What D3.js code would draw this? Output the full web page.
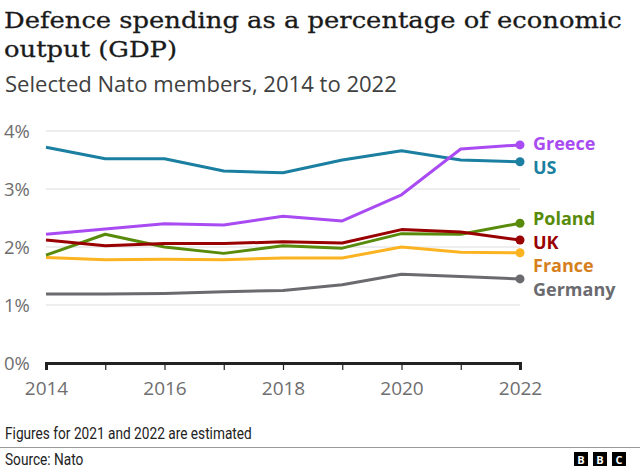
<!DOCTYPE html>
<html><head><meta charset="utf-8">
<script src="https://cdn.jsdelivr.net/npm/d3@7"></script>
<style>body{margin:0;background:#fff}svg{display:block}</style>
</head><body>
<script>
const years = [2014, 2015, 2016, 2017, 2018, 2019, 2020, 2021, 2022];
const countries = ["Greece", "US", "Poland", "UK", "France", "Germany"];
const greece  = [2.22, 2.31, 2.40, 2.38, 2.53, 2.45, 2.90, 3.69, 3.76];
const us      = [3.72, 3.52, 3.52, 3.31, 3.28, 3.50, 3.66, 3.50, 3.47];
const poland  = [1.86, 2.22, 2.00, 1.89, 2.02, 1.98, 2.23, 2.22, 2.41];
const uk      = [2.12, 2.02, 2.06, 2.06, 2.09, 2.07, 2.30, 2.26, 2.12];
const france  = [1.82, 1.78, 1.79, 1.78, 1.81, 1.81, 2.00, 1.91, 1.90];
const germany = [1.19, 1.19, 1.20, 1.23, 1.25, 1.35, 1.53, 1.49, 1.45];
const yTicks = [0, 1, 2, 3, 4];
const xTicks = [2014, 2016, 2018, 2020, 2022];

const seriesValues = [greece, us, poland, uk, france, germany];
const lineColors  = ["#a94bf2", "#1a7fa0", "#588b0b", "#990000", "#fbb321", "#6b6b6f"];
const labelColors = ["#a94bf2", "#1a7fa0", "#588b0b", "#990000", "#d5801d", "#6b6b6f"];
const labelY      = [143, 167, 218, 242, 265, 289];

const W = 640, H = 470;
const svg = d3.select("body").append("svg").attr("width", W).attr("height", H);

const x = d3.scaleLinear().domain([2014, 2022]).range([46, 520]);
const y = d3.scaleLinear().domain([0, 4]).range([363, 131]);

function fit(sel, target) {
  const len = sel.node().getComputedTextLength();
  const fs = parseFloat(sel.attr("font-size"));
  sel.attr("font-size", fs * target / len);
}

// Title (horizontally compressed serif to mimic BBC Reith Serif)
const titleFont = "'DejaVu Serif', serif";
const tg = svg.append("g");
const t1 = tg.append("text").attr("x", 0).attr("y", 28).attr("font-family", titleFont)
  .attr("font-size", 23).attr("fill", "#1a1a1a").attr("stroke", "#1a1a1a").attr("stroke-width", 0.3)
  .text("Defence spending as a percentage of economic");
tg.append("text").attr("x", 0).attr("y", 57).attr("font-family", titleFont)
  .attr("font-size", 23).attr("fill", "#1a1a1a").attr("stroke", "#1a1a1a").attr("stroke-width", 0.3)
  .text("output (GDP)");
const sx = 618 / t1.node().getComputedTextLength();
tg.attr("transform", `translate(4,0) scale(${sx},1)`);

const st = svg.append("text").attr("x", 5).attr("y", 92).attr("font-family", "Open Sans")
  .attr("font-size", 18).attr("fill", "#404040").text("Selected Nato members, 2014 to 2022");
fit(st, 392);

// Grid
const g = svg.append("g");
g.selectAll("line.grid").data(yTicks.filter(d => d > 0)).join("line")
  .attr("x1", 46).attr("x2", 520).attr("y1", d => y(d)).attr("y2", d => y(d))
  .attr("stroke", "#dcdcdc").attr("stroke-width", 1);

g.selectAll("text.ylab").data(yTicks).join("text")
  .attr("x", 4).attr("y", d => y(d) + 7).attr("font-family", "Open Sans").attr("font-size", 18.5)
  .attr("fill", "#6e6e6e").text(d => d + "%");

// X axis
const xAxis = d3.axisBottom(x).tickValues(years).tickSize(7).tickFormat(d => xTicks.includes(d) ? d : "");
const ax = svg.append("g").attr("transform", `translate(0,${y(0)})`).call(xAxis);
ax.select(".domain").attr("stroke", "#222").attr("stroke-width", 3);
ax.selectAll(".tick line").attr("stroke", "#222").attr("stroke-width", 1.2);
ax.selectAll(".tick text").attr("font-family", "Open Sans").attr("font-size", 19)
  .attr("fill", "#6e6e6e").attr("dy", "0").attr("y", 32);

// Lines
const line = d3.line().x((d, i) => x(years[i])).y(d => y(d));
const order = [4, 5, 2, 3, 1, 0];
order.forEach(k => {
  svg.append("path").datum(seriesValues[k]).attr("d", line).attr("fill", "none")
    .attr("stroke", lineColors[k]).attr("stroke-width", 3).attr("stroke-linejoin", "round");
});
countries.forEach((c, k) => {
  const v = seriesValues[k];
  svg.append("circle").attr("cx", x(years[years.length - 1])).attr("cy", y(v[v.length - 1]))
    .attr("r", 4.5).attr("fill", lineColors[k]);
  svg.append("text").attr("x", 533).attr("y", labelY[k] + 6.5).attr("font-family", "Open Sans")
    .attr("font-weight", "bold").attr("font-size", 18).attr("fill", labelColors[k]).text(c);
});

// Footer (compressed sans to mimic BBC Reith Sans)
const fg = svg.append("g");
const fn = fg.append("text").attr("x", 0).attr("y", 439.5).attr("font-family", "Roboto")
  .attr("font-size", 16).attr("fill", "#222").text("Figures for 2021 and 2022 are estimated");
fg.append("text").attr("x", 0).attr("y", 465).attr("font-family", "Roboto")
  .attr("font-size", 16).attr("fill", "#222").text("Source: Nato");
const fsx = Math.min(1, 247 / fn.node().getComputedTextLength());
fg.attr("transform", `translate(5,0) scale(${fsx},1)`);
svg.append("line").attr("x1", 0).attr("x2", 640).attr("y1", 447.5).attr("y2", 447.5)
  .attr("stroke", "#9a9a9a").attr("stroke-width", 1.2);
["B", "B", "C"].forEach((l, i) => {
  const bx = 574 + i * 19;
  svg.append("rect").attr("x", bx).attr("y", 452).attr("width", 14).attr("height", 14).attr("fill", "#000");
  svg.append("text").attr("x", bx + 7).attr("y", 463.5).attr("text-anchor", "middle")
    .attr("font-family", "Open Sans").attr("font-weight", "bold").attr("font-size", 11)
    .attr("fill", "#fff").text(l);
});
</script>
</body></html>
